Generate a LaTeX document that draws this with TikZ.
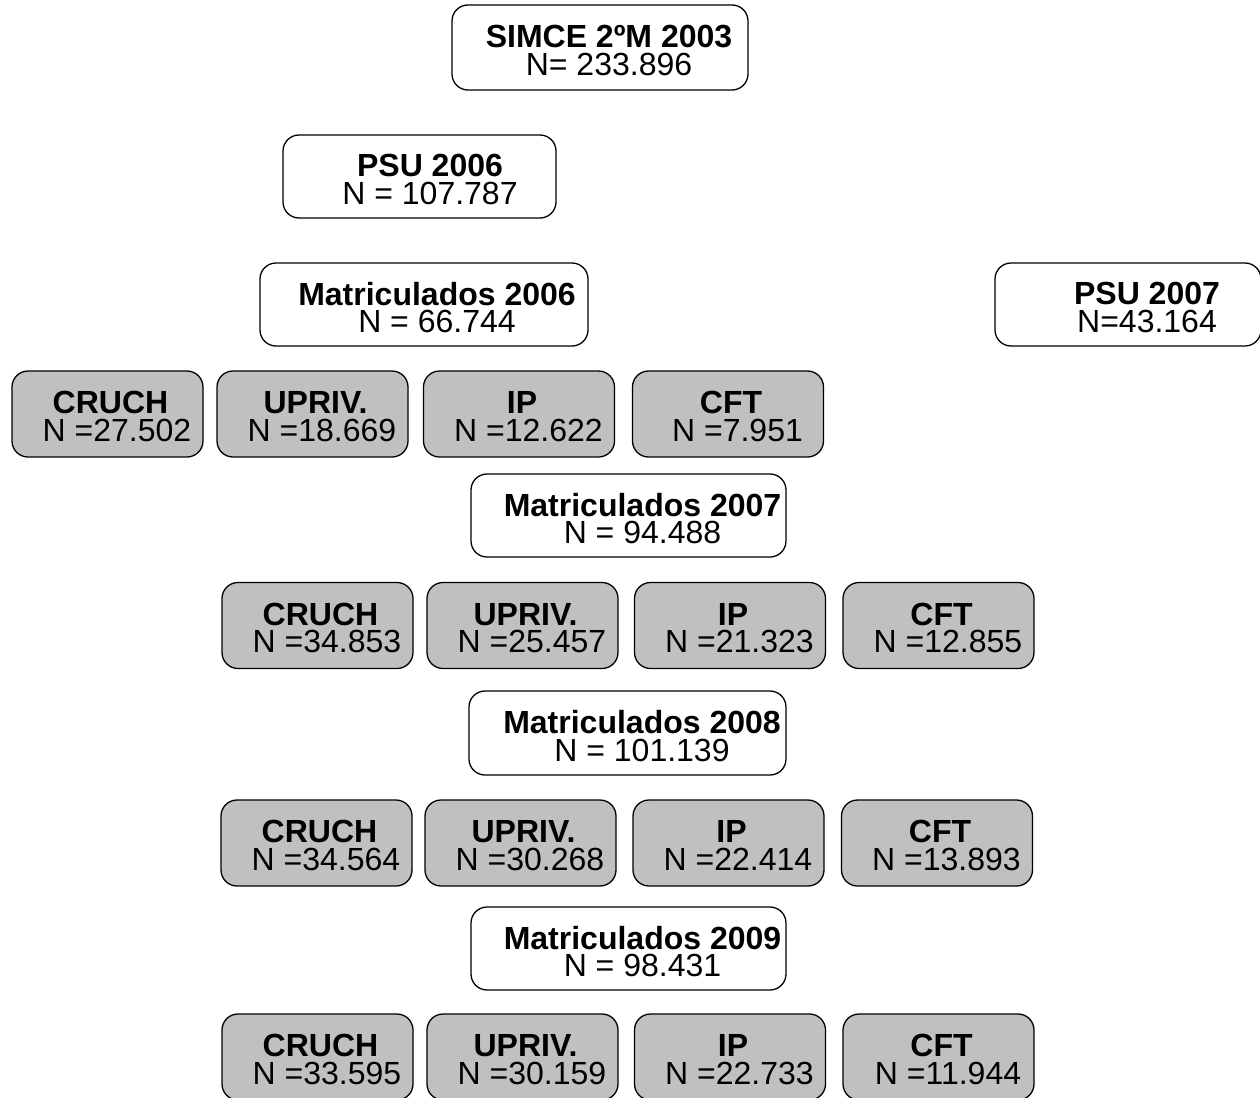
\documentclass[tikz,border=0pt]{standalone}
\usepackage{fontspec}
\setmainfont{Liberation Sans}
\usetikzlibrary{positioning}
\definecolor{boxgray}{HTML}{C0C0C0}
\tikzset{
  box/.style={draw, line width=1.3pt, rounded corners=16pt, inner sep=0pt},
  wbox/.style={box, fill=white, minimum height=84pt},
  gbox/.style={box, fill=boxgray, minimum width=191pt, minimum height=86pt},
  txt/.style={align=center, inner sep=0pt, font=\fontsize{32}{27.5}\selectfont}
}

\begin{document}
\begin{tikzpicture}[x=1pt, y=-1pt]
  \useasboundingbox (0,0) rectangle (1260,1097);

  % top of the tree
  \node[wbox, minimum width=296pt, minimum height=85pt] (simce) at (600,47.5) {};
  \node[txt] (simce-t) at ([shift={(9pt,-3pt)}]simce.center) {\textbf{SIMCE 2ºM 2003}\\N= 233.896};

  \node[wbox, minimum width=273pt, minimum height=83pt] (psu06) at (419.5,176.5) {};
  \node[txt] (psu06-t) at ([shift={(10.5pt,-3pt)}]psu06.center) {\textbf{PSU 2006}\\N = 107.787};

  \node[wbox, minimum width=328pt, minimum height=83pt] (mat06) at (424,304.5) {};
  \node[txt] (mat06-t) at ([shift={(13pt,-3pt)}]mat06.center) {\textbf{Matriculados 2006}\\N = 66.744};

  \node[wbox, minimum width=266pt, minimum height=83pt] (psu07) at (1128,304.5) {};
  \node[txt] (psu07-t) at ([shift={(19pt,-3pt)}]psu07.center) {\textbf{PSU 2007}\\N=43.164};

  % 2006
  \node[gbox] (cruch06) at (107.5,414) {};
  \node[txt] (cruch06-t) at ([shift={(3pt,-2.5pt)}]cruch06.center) {\textbf{CRUCH}\\\hspace*{13pt}N =27.502};
  \node[gbox] (upriv06) at (312.5,414) {};
  \node[txt] (upriv06-t) at ([shift={(3pt,-2.5pt)}]upriv06.center) {\textbf{UPRIV.}\\\hspace*{13pt}N =18.669};
  \node[gbox] (ip06) at (519,414) {};
  \node[txt] (ip06-t) at ([shift={(3pt,-2.5pt)}]ip06.center) {\textbf{IP}\\\hspace*{13pt}N =12.622};
  \node[gbox] (cft06) at (728,414) {};
  \node[txt] (cft06-t) at ([shift={(3pt,-2.5pt)}]cft06.center) {\textbf{CFT}\\\hspace*{13pt}N =7.951};

  % 2007
  \node[wbox, minimum width=315pt, minimum height=83pt] (mat07) at (628.5,515.5) {};
  \node[txt] (mat07-t) at ([shift={(14pt,-3pt)}]mat07.center) {\textbf{Matriculados 2007}\\N = 94.488};

  \node[gbox] (cruch07) at (317.5,625.5) {};
  \node[txt] (cruch07-t) at ([shift={(3pt,-2.5pt)}]cruch07.center) {\textbf{CRUCH}\\\hspace*{13pt}N =34.853};
  \node[gbox] (upriv07) at (522.5,625.5) {};
  \node[txt] (upriv07-t) at ([shift={(3pt,-2.5pt)}]upriv07.center) {\textbf{UPRIV.}\\\hspace*{13pt}N =25.457};
  \node[gbox] (ip07) at (730,625.5) {};
  \node[txt] (ip07-t) at ([shift={(3pt,-2.5pt)}]ip07.center) {\textbf{IP}\\\hspace*{13pt}N =21.323};
  \node[gbox] (cft07) at (938.5,625.5) {};
  \node[txt] (cft07-t) at ([shift={(3pt,-2.5pt)}]cft07.center) {\textbf{CFT}\\\hspace*{13pt}N =12.855};

  % 2008
  \node[wbox, minimum width=317pt, minimum height=84pt] (mat08) at (627.5,733) {};
  \node[txt] (mat08-t) at ([shift={(14.5pt,-3pt)}]mat08.center) {\textbf{Matriculados 2008}\\N = 101.139};

  \node[gbox] (cruch08) at (316.5,843) {};
  \node[txt] (cruch08-t) at ([shift={(3pt,-2.5pt)}]cruch08.center) {\textbf{CRUCH}\\\hspace*{13pt}N =34.564};
  \node[gbox] (upriv08) at (520.5,843) {};
  \node[txt] (upriv08-t) at ([shift={(3pt,-2.5pt)}]upriv08.center) {\textbf{UPRIV.}\\\hspace*{13pt}N =30.268};
  \node[gbox] (ip08) at (728.5,843) {};
  \node[txt] (ip08-t) at ([shift={(3pt,-2.5pt)}]ip08.center) {\textbf{IP}\\\hspace*{13pt}N =22.414};
  \node[gbox] (cft08) at (937,843) {};
  \node[txt] (cft08-t) at ([shift={(3pt,-2.5pt)}]cft08.center) {\textbf{CFT}\\\hspace*{13pt}N =13.893};

  % 2009
  \node[wbox, minimum width=315pt, minimum height=83pt] (mat09) at (628.5,948.5) {};
  \node[txt] (mat09-t) at ([shift={(14pt,-3pt)}]mat09.center) {\textbf{Matriculados 2009}\\N = 98.431};

  \node[gbox] (cruch09) at (317.5,1057) {};
  \node[txt] (cruch09-t) at ([shift={(3pt,-2.5pt)}]cruch09.center) {\textbf{CRUCH}\\\hspace*{13pt}N =33.595};
  \node[gbox] (upriv09) at (522.5,1057) {};
  \node[txt] (upriv09-t) at ([shift={(3pt,-2.5pt)}]upriv09.center) {\textbf{UPRIV.}\\\hspace*{13pt}N =30.159};
  \node[gbox] (ip09) at (730,1057) {};
  \node[txt] (ip09-t) at ([shift={(3pt,-2.5pt)}]ip09.center) {\textbf{IP}\\\hspace*{13pt}N =22.733};
  \node[gbox] (cft09) at (938.5,1057) {};
  \node[txt] (cft09-t) at ([shift={(3pt,-2.5pt)}]cft09.center) {\textbf{CFT}\\\hspace*{13pt}N =11.944};
\end{tikzpicture}
\end{document}
